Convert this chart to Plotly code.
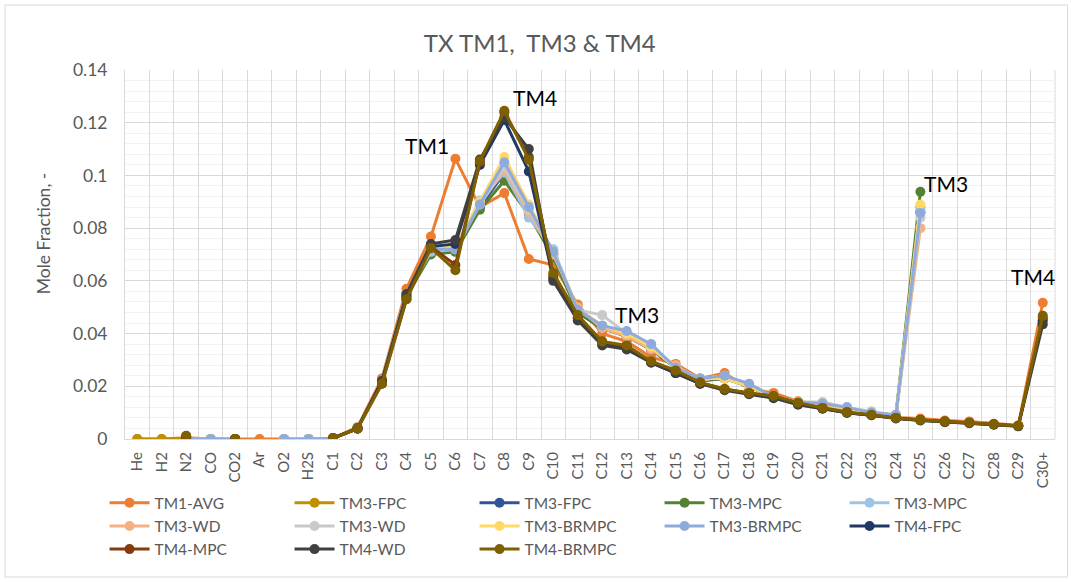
import plotly.graph_objects as go

# Components along the x axis
categories = ["He", "H2", "N2", "CO", "CO2", "Ar", "O2", "H2S", "C1", "C2", "C3", "C4",
              "C5", "C6", "C7", "C8", "C9", "C10", "C11", "C12", "C13", "C14", "C15",
              "C16", "C17", "C18", "C19", "C20", "C21", "C22", "C23", "C24", "C25",
              "C26", "C27", "C28", "C29", "C30+"]

N = None

# Mole fractions per sample (None = component not reported)
tm1_avg = [0, 0, 0.0005, 0, 0, 0, 0, 0,
           0.0003, 0.0045, 0.023, 0.057, 0.0768, 0.1063, 0.088, 0.0933, 0.0683, 0.066,
           0.051, 0.040, 0.037, 0.031, 0.0285, 0.023, 0.025, 0.019, 0.0175, 0.0143,
           0.012, 0.0105, 0.0095, 0.0082, 0.0078, 0.007, 0.0066, 0.0058, 0.0052, 0.0517]

tm3_fpc_a = [0, 0, 0.0003, 0, 0, N, 0, 0,
             0.0003, 0.004, 0.022, 0.055, 0.072, 0.072, 0.089, 0.103, 0.087, 0.070,
             0.049, 0.043, 0.039, 0.034, 0.027, 0.0225, 0.023, 0.020, 0.016, 0.014,
             0.0135, 0.0115, 0.010, 0.009, 0.088, N, N, N, N, N]

tm3_fpc_b = [N, N, 0.0002, 0, 0, N, 0, 0,
             0.0003, 0.004, 0.022, 0.055, 0.071, 0.072, 0.088, 0.101, 0.086, 0.070,
             0.048, 0.042, 0.039, 0.034, 0.027, 0.022, 0.023, 0.020, 0.016, 0.014,
             0.013, 0.0115, 0.010, 0.009, 0.086, N, N, N, N, N]

tm3_mpc_a = [N, N, 0.0002, 0, 0, N, 0, 0,
             0.0003, 0.004, 0.022, 0.054, 0.070, 0.071, 0.087, 0.098, 0.085, 0.069,
             0.048, 0.042, 0.039, 0.034, 0.027, 0.022, 0.023, 0.020, 0.016, 0.014,
             0.013, 0.0115, 0.010, 0.009, 0.0938, N, N, N, N, N]

tm3_mpc_b = [N, N, 0.0002, 0, 0, N, 0, 0,
             0.0003, 0.004, 0.022, 0.055, 0.071, 0.072, 0.0905, 0.101, 0.084, 0.072,
             0.049, 0.043, 0.040, 0.035, 0.027, 0.023, 0.023, 0.020, 0.016, 0.014,
             0.0135, 0.012, 0.010, 0.009, 0.087, N, N, N, N, N]

tm3_wd_a = [N, N, 0.0002, 0, 0, N, 0, 0,
            0.0003, 0.004, 0.022, 0.055, 0.072, 0.072, 0.089, 0.102, 0.086, 0.070,
            0.050, 0.042, 0.039, 0.034, 0.028, 0.022, 0.024, 0.020, 0.016, 0.014,
            0.013, 0.0115, 0.010, 0.009, 0.080, N, N, N, N, N]

tm3_wd_b = [N, N, 0.0002, 0, 0, N, 0, 0,
            0.0003, 0.004, 0.022, 0.055, 0.072, 0.072, 0.089, 0.103, 0.087, 0.071,
            0.049, 0.047, 0.040, 0.035, 0.027, 0.023, 0.024, 0.020, 0.016, 0.014,
            0.014, 0.012, 0.0105, 0.009, 0.084, N, N, N, N, N]

tm3_brmpc_a = [N, N, 0.0002, 0, 0, N, 0, 0,
               0.0003, 0.004, 0.022, 0.055, 0.072, 0.073, 0.090, 0.107, 0.089, 0.071,
               0.049, 0.043, 0.040, 0.035, 0.027, 0.023, 0.023, 0.020, 0.016, 0.014,
               0.0135, 0.0115, 0.010, 0.009, 0.089, N, N, N, N, N]

tm3_brmpc_b = [N, N, 0.0002, 0, 0, N, 0, 0,
               0.0003, 0.004, 0.022, 0.055, 0.072, 0.072, 0.089, 0.105, 0.088, 0.071,
               0.049, 0.043, 0.041, 0.036, 0.027, 0.023, 0.024, 0.021, 0.016, 0.014,
               0.0135, 0.012, 0.010, 0.0092, 0.0857, N, N, N, N, N]

tm4_fpc = [N, N, 0, N, 0, N, N, N,
           0.0003, 0.004, 0.022, 0.054, 0.073, 0.074, 0.104, 0.121, 0.1015, 0.061,
           0.046, 0.036, 0.035, 0.029, 0.025, 0.021, 0.0188, 0.0172, 0.0158, 0.0133,
           0.0116, 0.010, 0.009, 0.0079, 0.0071, 0.0065, 0.0061, 0.0055, 0.0049, 0.045]

tm4_mpc = [N, N, 0.001, N, 0, N, N, N,
           0.0003, 0.004, 0.021, 0.053, 0.073, 0.066, 0.105, 0.124, 0.107, 0.062,
           0.046, 0.037, 0.035, 0.029, 0.0258, 0.0213, 0.019, 0.0174, 0.0162, 0.0136,
           0.0117, 0.0101, 0.0091, 0.008, 0.0072, 0.0066, 0.0062, 0.0056, 0.005, 0.046]

tm4_wd = [N, N, 0.0008, N, 0, N, N, N,
          0.0003, 0.004, 0.022, 0.055, 0.074, 0.0755, 0.106, 0.122, 0.110, 0.060,
          0.045, 0.0355, 0.034, 0.029, 0.025, 0.021, 0.0185, 0.017, 0.0155, 0.013,
          0.0115, 0.010, 0.009, 0.0078, 0.007, 0.0064, 0.006, 0.0054, 0.0048, 0.0435]

tm4_brmpc = [N, N, 0.0012, N, 0, N, N, N,
             0.0003, 0.004, 0.021, 0.053, 0.0725, 0.064, 0.1055, 0.1245, 0.106, 0.063,
             0.047, 0.037, 0.0355, 0.0295, 0.026, 0.0215, 0.019, 0.0175, 0.0163, 0.0138,
             0.0118, 0.0102, 0.0092, 0.008, 0.0072, 0.0066, 0.0062, 0.0056, 0.005, 0.0468]

series = [
    ("TM1-AVG", tm1_avg, "#ED7D31"),
    ("TM3-FPC", tm3_fpc_a, "#BF9000"),
    ("TM3-FPC", tm3_fpc_b, "#2F5597"),
    ("TM3-MPC", tm3_mpc_a, "#548235"),
    ("TM3-MPC", tm3_mpc_b, "#9DC3E6"),
    ("TM3-WD", tm3_wd_a, "#F4B183"),
    ("TM3-WD", tm3_wd_b, "#C9C9C9"),
    ("TM3-BRMPC", tm3_brmpc_a, "#FFD966"),
    ("TM3-BRMPC", tm3_brmpc_b, "#8FAADC"),
    ("TM4-FPC", tm4_fpc, "#1F3864"),
    ("TM4-MPC", tm4_mpc, "#843C0C"),
    ("TM4-WD", tm4_wd, "#404040"),
    ("TM4-BRMPC", tm4_brmpc, "#7F6000"),
]

FONT = "Lato"
GREY = "#595959"

fig = go.Figure()
for name, vals, color in series:
    fig.add_trace(go.Scatter(
        x=categories, y=vals, name=name, mode="lines+markers",
        line=dict(color=color, width=3),
        marker=dict(color=color, size=10, symbol="circle"),
        connectgaps=False,
    ))

# Sample group labels on the curves
labels = [("TM1", 11.85, 0.1115), ("TM4", 16.25, 0.1294), ("TM3", 20.4, 0.0474),
          ("TM3", 33.05, 0.0971), ("TM4", 36.6, 0.0618)]
for text, xi, yv in labels:
    fig.add_annotation(x=xi, y=yv, text=text, showarrow=False,
                       font=dict(family=FONT, size=21, color="#000000"))

# Value axis title
fig.add_annotation(xref="paper", yref="paper", x=-0.088, y=0.558, text="Mole Fraction, -",
                   textangle=-90, showarrow=False, xanchor="center", yanchor="middle",
                   font=dict(family=FONT, size=17.5, color=GREY))

# Outer chart frame
fig.add_shape(type="rect", xref="paper", yref="paper",
              x0=-0.129, x1=1.0135, y0=-0.374, y1=1.176,
              line=dict(color="#D9D9D9", width=1), layer="below")
# Right border of the plot area
fig.add_shape(type="line", xref="paper", yref="paper", x0=1, x1=1, y0=0, y1=1,
              line=dict(color="#D9D9D9", width=1), layer="below")

fig.update_layout(
    width=1071, height=582,
    margin=dict(l=125, r=16, t=70, b=143),
    paper_bgcolor="white", plot_bgcolor="white",
    font=dict(family=FONT, color=GREY),
    title=dict(text="TX TM1,  TM3 & TM4", x=0.504, xref="container", xanchor="center",
               y=0.925, yanchor="middle",
               font=dict(family=FONT, size=24, color=GREY)),
    showlegend=True,
    legend=dict(orientation="h", x=-0.022, y=-0.128, xanchor="left", yanchor="top",
                font=dict(family=FONT, size=15.5, color=GREY),
                entrywidth=130, entrywidthmode="pixels",
                tracegroupgap=0, itemwidth=40, bgcolor="rgba(0,0,0,0)"),
    xaxis=dict(type="category", tickson="boundaries", showgrid=True,
               gridcolor="#D9D9D9", gridwidth=1, showline=True, linecolor="#D9D9D9",
               mirror=False, ticks="", tickangle=-90, ticklabelstandoff=6,
               tickfont=dict(family=FONT, size=15, color=GREY),
               range=[-0.5, len(categories) - 0.5]),
    yaxis=dict(range=[0, 0.14], dtick=0.02, showgrid=True, gridcolor="#D9D9D9",
               gridwidth=1, zeroline=False, showline=True, linecolor="#D9D9D9",
               ticks="", tickformat="~g", ticklabelstandoff=13,
               tickfont=dict(family=FONT, size=17.5, color=GREY),
               minor=dict(dtick=0.004, showgrid=True, gridcolor="#F2F2F2", gridwidth=1)),
)

fig.write_html("out.html")
